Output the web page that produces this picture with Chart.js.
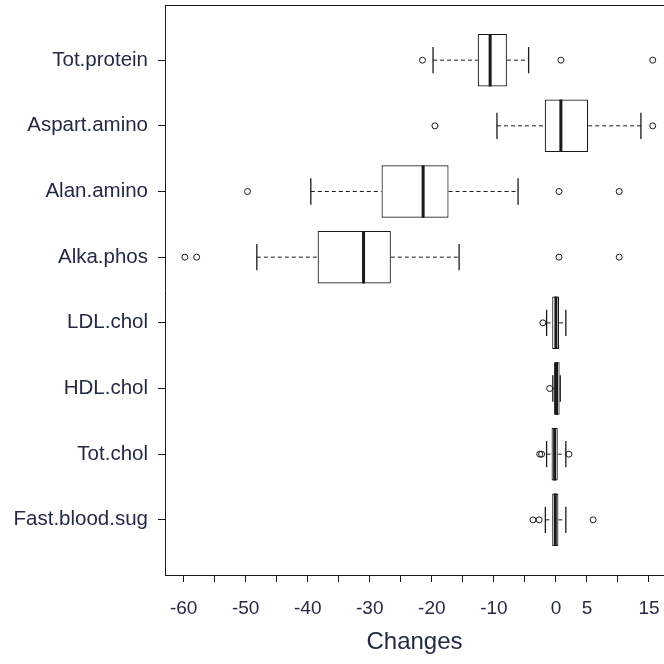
<!DOCTYPE html>
<html>
<head>
<meta charset="utf-8">
<script src="https://cdn.jsdelivr.net/npm/chart.js@4/dist/chart.umd.min.js"></script>
<style>
html,body{margin:0;padding:0;background:#fff;overflow:hidden;}
#wrap{width:664px;height:664px;position:relative;}
</style>
</head>
<body>
<div id="wrap"><canvas id="c" width="664" height="664"></canvas></div>
<script>
// ---- data ----
const categories = ["Tot.protein","Aspart.amino","Alan.amino","Alka.phos","LDL.chol","HDL.chol","Tot.chol","Fast.blood.sug"];
const whiskerLow  = [-19.8, -9.5, -39.5, -48.2, -1.5, -0.5, -1.5, -1.7];
const q1          = [-12.6, -1.8, -28.1, -38.4, -0.6, -0.3, -0.7, -0.6];
const median      = [-10.6,  0.8, -21.4, -31.0,  0.0,  0.1, -0.2, -0.1];
const q3          = [ -7.9,  5.2, -17.3, -26.6,  0.5,  0.6,  0.3,  0.4];
const whiskerHigh = [ -4.4, 13.7,  -6.1, -15.6,  1.6,  0.7,  1.6,  1.6];
const outliers = [
  [-21.5, 0.8, 15.6],
  [-19.5, 15.6],
  [-49.7, 0.5, 10.2],
  [-59.8, -57.9, 0.5, 10.2],
  [-2.1],
  [-1.0],
  [-2.6, -2.3, 2.1],
  [-3.7, -2.7, 6.0]
];
const xTickValues = [-60,-55,-50,-45,-40,-35,-30,-25,-20,-15,-10,-5,0,5,10,15];
const xTickLabels = [-60,-50,-40,-30,-20,-10,0,5,15];
const xTitle = "Changes";

// ---- build datasets from the arrays ----
const idx = categories.map((_, i) => i);
const gap = {x: null, y: null};
const boxData = idx.map(i => ({x: [q1[i], q3[i]], y: i}));
const whiskerData = [], capData = [], medData = [], outData = [];
idx.forEach(i => {
  whiskerData.push({x: whiskerLow[i], y: i}, {x: q1[i], y: i}, gap,
                   {x: q3[i], y: i}, {x: whiskerHigh[i], y: i}, gap);
  capData.push({x: whiskerLow[i], y: i - 0.2}, {x: whiskerLow[i], y: i + 0.2}, gap,
               {x: whiskerHigh[i], y: i - 0.2}, {x: whiskerHigh[i], y: i + 0.2}, gap);
  medData.push({x: median[i], y: i - 0.4}, {x: median[i], y: i + 0.4}, gap);
  outliers[i].forEach(v => outData.push({x: v, y: i}));
});

const ink = '#1a1a1a';
const textCol = '#232a45';
const FONT = "'Liberation Sans', Arial, Helvetica, sans-serif";

const framePlugin = {
  id: 'frameTop',
  afterDraw(chart) {
    const a = chart.chartArea, ctx = chart.ctx;
    ctx.save();
    ctx.strokeStyle = ink; ctx.lineWidth = 1;
    ctx.beginPath();
    ctx.moveTo(a.left, a.top + 0.5);
    ctx.lineTo(chart.width, a.top + 0.5);
    ctx.stroke();
    ctx.restore();
  }
};

function zeroPad(s) { s.paddingTop = 0; s.paddingBottom = 0; s.paddingLeft = 0; s.paddingRight = 0; }

new Chart(document.getElementById('c'), {
  type: 'bar',
  data: {
    datasets: [
      {type: 'line', data: outData, showLine: false, pointStyle: 'circle', pointRadius: 3,
       pointBorderWidth: 1, pointBorderColor: ink, pointBackgroundColor: 'rgba(255,255,255,0)', order: 0},
      {type: 'line', data: medData, borderColor: ink, borderWidth: 3, pointRadius: 0, spanGaps: false, order: 1},
      {type: 'line', data: capData, borderColor: ink, borderWidth: 1.3, pointRadius: 0, spanGaps: false, order: 2},
      {type: 'line', data: whiskerData, borderColor: ink, borderWidth: 1, borderDash: [4, 3], pointRadius: 0, spanGaps: false, order: 3},
      {type: 'bar', indexAxis: 'y', data: boxData, backgroundColor: '#ffffff', borderColor: ink,
       borderWidth: 1.2, borderSkipped: false, categoryPercentage: 1, barPercentage: 0.8, order: 4}
    ]
  },
  options: {
    responsive: false,
    animation: false,
    events: [],
    layout: {autoPadding: false, padding: {top: 5, right: 0, left: 0, bottom: 0}},
    plugins: {legend: {display: false}, tooltip: {enabled: false}},
    scales: {
      x: {
        type: 'linear', position: 'bottom', min: -63, max: 17.42, offset: false,
        afterBuildTicks: s => { s.ticks = xTickValues.map(v => ({value: v})); },
        afterFit: s => { s.height = 89; zeroPad(s); },
        ticks: {
          autoSkip: false, maxRotation: 0, padding: 15, color: textCol,
          font: {family: FONT, size: 19},
          callback: v => xTickLabels.includes(v) ? String(v) : ''
        },
        grid: {display: true, offset: false, drawOnChartArea: false, drawTicks: true, tickLength: 7, tickColor: ink, tickWidth: 1},
        border: {display: true, color: ink, width: 1},
        title: {display: true, text: xTitle, color: textCol, font: {family: FONT, size: 24},
                padding: {top: 10, bottom: 7}}
      },
      y: {
        type: 'linear', position: 'left', reverse: true, min: -0.84, max: 7.84, offset: false,
        afterBuildTicks: s => { s.ticks = idx.map(v => ({value: v})); },
        afterFit: s => { s.width = 165; zeroPad(s); },
        ticks: {
          autoSkip: false, padding: 10, color: textCol,
          font: {family: FONT, size: 20.5},
          callback: v => categories[v]
        },
        grid: {display: true, offset: false, drawOnChartArea: false, drawTicks: true, tickLength: 7, tickColor: ink, tickWidth: 1},
        border: {display: true, color: ink, width: 1}
      }
    }
  },
  plugins: [framePlugin]
});
</script>
</body>
</html>
